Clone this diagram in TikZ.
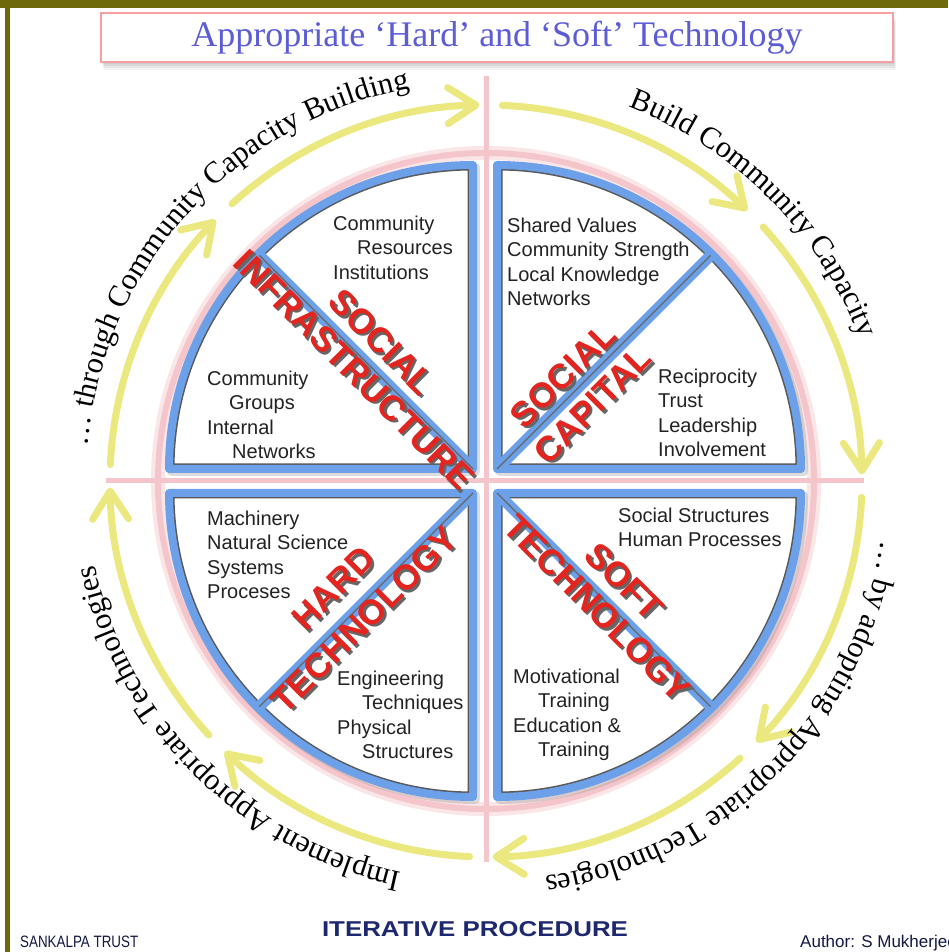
\documentclass[tikz,border=0pt]{standalone}
\usepackage{fontspec}
\setmainfont{Liberation Sans}
\newfontfamily\serifface{Liberation Serif}
\usetikzlibrary{arrows.meta,decorations.text}

\definecolor{olive}{RGB}{110,106,12}
\definecolor{frameblue}{RGB}{108,160,232}
\definecolor{ringpink}{RGB}{244,198,203}
\definecolor{cycleyellow}{RGB}{236,232,128}
\definecolor{titleblue}{RGB}{92,92,214}
\definecolor{labelred}{RGB}{228,36,30}
\definecolor{bodygray}{RGB}{34,34,34}
\definecolor{navy}{RGB}{30,40,110}

\tikzset{
  qshadow/.style={draw=black!45, opacity=0.3, line width=9pt, line join=round},
  qinner/.style={draw=black!65, line width=11pt},
  qframe/.style={draw=frameblue, line width=8pt, line join=round},
  qdiag/.style={draw=frameblue, line width=11pt},
  qdiagmid/.style={draw=black!60, line width=1.3pt},
  cyclearrow/.style={draw=cycleyellow, line width=7pt, line cap=round,
    -{Straight Barb[length=28pt,width=36pt,round]}},
  bodytext/.style={anchor=north west, inner sep=0pt, align=left, text=bodygray,
    font=\fontsize{20}{24.6}\selectfont},
  redlabel/.style={inner sep=0pt, align=center, text=labelred,
    font=\bfseries\fontsize{35}{#1}\selectfont},
  redshadow/.style={redlabel=#1, text=black!60},
  curvetext/.style={decorate, decoration={text along path, text align=center,
    text={|\serifface\fontsize{30.5}{30.5}\selectfont|#1}}},
}

% one quarter of the wheel: corner (#1,#2), first edge at angle #3
\newcommand\drawquadrant[3]{%
  \begin{scope}[shift={(2.5,-2.5)}]
    \draw[qshadow] (#1,#2) -- ++(#3:304) arc[start angle=#3, delta angle=90, radius=304] -- cycle;
  \end{scope}
  \fill[white] (#1,#2) -- ++(#3:304) arc[start angle=#3, delta angle=90, radius=304] -- cycle;
  \begin{scope}
    \clip (#1,#2) -- ++(#3:304) arc[start angle=#3, delta angle=90, radius=304] -- cycle;
    \draw[qinner] (#1,#2) -- ++(#3:304) arc[start angle=#3, delta angle=90, radius=304] -- cycle;
  \end{scope}
  \draw[qframe] (#1,#2) -- ++(#3:304) arc[start angle=#3, delta angle=90, radius=304] -- cycle;
  \draw[qdiag] (#1,#2) -- ++(#3+45:304);
  \draw[qdiagmid] (#1,#2) -- ++(#3+45:302);
}

\begin{document}
\begin{tikzpicture}[x=1pt,y=1pt]
\useasboundingbox (0,0) rectangle (948,952);
\clip (0,0) rectangle (948,952);
\fill[white] (0,0) rectangle (948,952);

% outer frame
\fill[olive] (0,944) rectangle (948,952);
\fill[olive] (5,0) rectangle (10,952);

% title banner
\foreach \k in {2,4,6,8}
  \fill[black, opacity=0.05] (101+\k*0.4, 890-\k) rectangle (893+\k*0.4, 939-\k);
\node[draw=ringpink!80!red, line width=1.6pt, fill=white, minimum width=792pt,
  minimum height=49pt, inner sep=0pt, text=titleblue,
  font=\serifface\fontsize{36}{36}\selectfont] (title) at (497,914.5)
  {Appropriate ‘Hard’ and ‘Soft’ Technology};

\coordinate (C) at (486,471);

% pink ring and cross
\draw[ringpink, line width=14pt, opacity=0.45] (C) circle[radius=328];
\draw[ringpink, line width=6pt] (C) circle[radius=328];
\draw[ringpink, line width=5pt] (486,876) -- (486,90);
\draw[ringpink, line width=5pt] (106,471) -- (864,471);

% cycle arrows
\foreach \b in {180,90,0,-90} {
  \draw[cyclearrow] ([shift={(\b-2.5:376)}]C) arc[start angle=\b-2.5, end angle=\b-44, radius=376];
  \draw[cyclearrow] ([shift={(\b-47.5:376)}]C) arc[start angle=\b-47.5, end angle=\b-89, radius=376];
}

% captions around the cycle
\path[curvetext={… through Community Capacity Building}]
  ([shift={(183:400)}]C) arc[start angle=183, end angle=93, radius=400];
\path[curvetext={Build Community Capacity}]
  ([shift={(90:400)}]C) arc[start angle=90, end angle=0, radius=400];
\path[curvetext={… by adopting Appropriate Technologies}]
  ([shift={(0:400)}]C) arc[start angle=0, end angle=-90, radius=400];
\path[curvetext={Implement Appropriate Technologies}]
  ([shift={(270:400)}]C) arc[start angle=270, end angle=180, radius=400];

% the four quarters
\drawquadrant{473}{483}{90}
\drawquadrant{497}{483}{0}
\drawquadrant{473}{459}{180}
\drawquadrant{497}{459}{270}

% contents of each sector
\node[bodytext] (tla) at (333,736.5) {Community\\\hspace*{24pt}Resources\\Institutions};
\node[bodytext] (tlb) at (207,581.5) {Community\\\hspace*{22pt}Groups\\Internal\\\hspace*{25pt}Networks};
\node[bodytext] (tra) at (507,734.5) {Shared Values\\Community Strength\\Local Knowledge\\Networks};
\node[bodytext] (trb) at (658,583.5) {Reciprocity\\Trust\\Leadership\\Involvement};
\node[bodytext] (bla) at (207,441.5) {Machinery\\Natural Science\\Systems\\Proceses};
\node[bodytext] (blb) at (337,281.5) {Engineering\\\hspace*{25pt}Techniques\\Physical\\\hspace*{25pt}Structures};
\node[bodytext] (bra) at (618,444.5) {Social Structures\\Human Processes};
\node[bodytext] (brb) at (513,283.5) {Motivational\\\hspace*{25pt}Training\\Education \&\\\hspace*{25pt}Training};

% quarter titles
\node[redshadow=39, rotate=-45] (infraS) at (370.5,593.5) {SOCIAL\\INFRASTRUCTURE};
\node[redlabel=39, rotate=-45] (infra) at (368,596) {SOCIAL\\INFRASTRUCTURE};
\node[redshadow=42, rotate=45] (capitalS) at (580.5,559.5) {SOCIAL\\CAPITAL};
\node[redlabel=42, rotate=45] (capital) at (578,562) {SOCIAL\\CAPITAL};
\node[redshadow=44, rotate=45] (hardS) at (351.5,345.5) {HARD\\TECHNOLOGY};
\node[redlabel=44, rotate=45] (hard) at (349,348) {HARD\\TECHNOLOGY};
\node[redshadow=38, rotate=-45] (softS) at (613.5,354.5) {SOFT\\TECHNOLOGY};
\node[redlabel=38, rotate=-45] (soft) at (611,357) {SOFT\\TECHNOLOGY};

% footer
\node[anchor=base, inner sep=0pt, text=navy] (proc) at (475,15)
  {\resizebox{306pt}{15pt}{\bfseries ITERATIVE PROCEDURE}};
\node[anchor=base west, inner sep=0pt, text=navy!60!black] (trust) at (20,5)
  {\resizebox{118pt}{11.5pt}{SANKALPA TRUST}};
\node[anchor=base west, inner sep=0pt, text=navy!60!black,
  font=\fontsize{17}{17}\selectfont] (author) at (800,5) {Author: S Mukherjee};
\end{tikzpicture}
\end{document}
